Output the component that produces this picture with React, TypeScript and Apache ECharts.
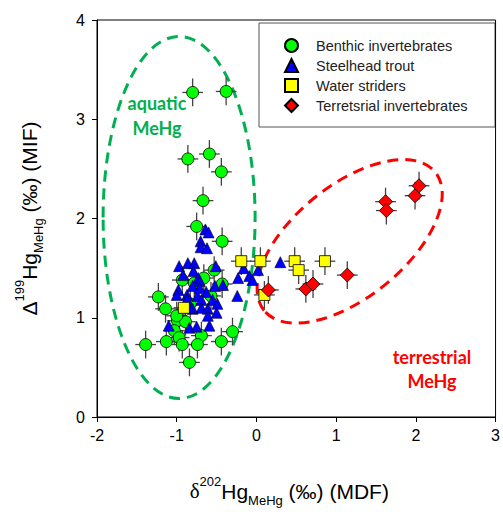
import React, { useEffect, useRef } from "react";
import * as echarts from "echarts";

// Benthic invertebrates
const benthicX = [-0.80, -0.38, -0.86, -0.59, -0.44, -0.67, -0.75, -0.43, -0.53, -0.93, -0.66, -0.43, -1.23, -1.14, -0.57, -0.83, -0.99, -0.89, -1.03, -0.97, -0.69, -1.39, -1.13, -0.93, -0.74, -0.44, -0.30, -0.84, -0.78, -1.00];
const benthicY = [3.27, 3.28, 2.60, 2.65, 2.47, 2.18, 1.92, 1.77, 1.48, 1.38, 1.40, 1.34, 1.21, 1.09, 1.22, 1.14, 0.97, 0.96, 0.87, 0.80, 0.82, 0.73, 0.76, 0.73, 0.73, 0.76, 0.86, 0.55, 1.35, 1.02];

// Steelhead trout
const troutX = [-0.64, -0.60, -0.70, -0.70, -0.62, -0.97, -0.86, -0.78, -0.79, -0.92, -0.73, -0.51, -0.16, 0.02, -0.23, -0.09, -0.05, 0.30, -0.71, -0.80, -0.52, -0.42, -0.98, -1.00, -0.87, -0.74, -0.63, -0.69, -0.55, -0.49, -0.87, -0.24, -0.80, -0.69, -0.61, -0.50, -0.61, -0.59, -1.10, -0.84, -0.75, -0.84, -0.71];
const troutY = [1.89, 1.86, 1.77, 1.71, 1.70, 1.52, 1.55, 1.55, 1.47, 1.43, 1.40, 1.52, 1.50, 1.48, 1.40, 1.42, 1.38, 1.56, 1.37, 1.32, 1.32, 1.33, 1.28, 1.23, 1.23, 1.22, 1.26, 1.18, 1.18, 1.14, 1.19, 1.22, 1.09, 1.10, 1.09, 1.05, 1.02, 0.92, 0.92, 0.90, 0.91, 1.10, 1.30];

// Water striders
const striderX = [-0.91, -0.19, 0.05, 0.10, 0.48, 0.53, 0.86];
const striderY = [1.10, 1.57, 1.57, 1.23, 1.57, 1.48, 1.57];

// Terrestrial invertebrates
const terrX = [0.15, 0.62, 0.71, 1.14, 1.62, 1.63, 1.99, 2.04];
const terrY = [1.28, 1.29, 1.34, 1.43, 2.17, 2.08, 2.23, 2.33];

// Uncertainty applied to samples drawn with error bars
const errX = 0.13;
const errY = 0.14;

const seriesNames = ["Benthic invertebrates", "Steelhead trout", "Water striders", "Terretsrial invertebrates"];
const xTicks = [-2, 3];
const yTicks = [0, 4];

const zip = (xs: number[], ys: number[]) => xs.map((x, i) => [x, ys[i]]);

function errorSeries(data: number[][]) {
  return {
    type: "custom",
    silent: true,
    z: 1,
    data,
    renderItem: (params: any, api: any) => {
      const x = api.value(0);
      const y = api.value(1);
      const l = api.coord([x - errX, y]);
      const r = api.coord([x + errX, y]);
      const t = api.coord([x, y + errY]);
      const b = api.coord([x, y - errY]);
      const st = { stroke: "#444", lineWidth: 1.3 };
      return {
        type: "group",
        children: [
          { type: "line", shape: { x1: l[0], y1: l[1], x2: r[0], y2: r[1] }, style: st },
          { type: "line", shape: { x1: t[0], y1: t[1], x2: b[0], y2: b[1] }, style: st },
        ],
      };
    },
  };
}

function ellipseSeries(center: number[], rx: number, ry: number, rot: number, color: string) {
  return {
    type: "custom",
    silent: true,
    z: 0,
    data: [center],
    renderItem: (params: any, api: any) => {
      const c = api.coord([api.value(0), api.value(1)]);
      return {
        type: "ellipse",
        x: c[0],
        y: c[1],
        rotation: rot,
        shape: { cx: 0, cy: 0, rx, ry },
        style: { fill: "none", stroke: color, lineWidth: 3, lineDash: [11, 7] },
      };
    },
  };
}

export default function App() {
  const ref = useRef<HTMLDivElement>(null);
  useEffect(() => {
    const chart = echarts.init(ref.current!, undefined, { renderer: "svg" });
    const base = { fontFamily: "Liberation Sans, Arial", fontSize: 21, color: "#000" };
    chart.setOption({
      animation: false,
      backgroundColor: "#fff",
      grid: { left: 97, right: 6, top: 20, bottom: 92, show: true, borderColor: "#000", borderWidth: 1, backgroundColor: "transparent" },
      xAxis: {
        type: "value",
        min: xTicks[0],
        max: xTicks[1],
        interval: 1,
        splitLine: { show: false },
        axisLine: { onZero: false, lineStyle: { color: "#000", width: 1 } },
        axisTick: { show: true, length: 5, lineStyle: { color: "#000" } },
        axisLabel: { fontSize: 16, color: "#000", fontFamily: "Liberation Sans, Arial", margin: 10 },
        name: "{d|δ}{sup|202}{m|Hg}{sub|MeHg}{m| (‰) (MDF)}",
        nameLocation: "middle",
        nameGap: 58,
        nameTextStyle: {
          padding: [0, 14, 0, 0],
          rich: {
            d: { ...base, fontFamily: "Liberation Serif, serif", lineHeight: 32, verticalAlign: "middle" },
            m: { ...base, lineHeight: 32 },
            sup: { ...base, fontSize: 13, lineHeight: 14, verticalAlign: "top" },
            sub: { ...base, fontSize: 13, lineHeight: 14, verticalAlign: "bottom" },
          },
        },
      },
      yAxis: {
        type: "value",
        min: yTicks[0],
        max: yTicks[1],
        interval: 1,
        splitLine: { show: false },
        axisLine: { show: true, onZero: false, lineStyle: { color: "#000", width: 1 } },
        axisTick: { show: true, length: 5, lineStyle: { color: "#000" } },
        axisLabel: { fontSize: 16, color: "#000", fontFamily: "Liberation Sans, Arial", margin: 12 },
        name: "{m|Δ}{sup|199}{m|Hg}{sub|MeHg}{m| (‰) (MIF)}",
        nameLocation: "middle",
        nameGap: 52,
        nameRotate: 90,
        nameTextStyle: {
          rich: {
            m: { ...base, lineHeight: 32 },
            sup: { ...base, fontSize: 13, lineHeight: 14, verticalAlign: "top" },
            sub: { ...base, fontSize: 13, lineHeight: 14, verticalAlign: "bottom" },
          },
        },
      },
      legend: {
        data: seriesNames,
        orient: "vertical",
        left: 284,
        top: 38,
        itemWidth: 13,
        itemHeight: 13,
        itemGap: 5,
        padding: 0,
        textStyle: { fontSize: 14.5, color: "#222", fontFamily: "Liberation Sans, Arial", padding: [0, 0, 0, 13] },
      },
      graphic: [
        { type: "rect", shape: { x: 259, y: 23, width: 236, height: 104 }, style: { fill: "none", stroke: "#555", lineWidth: 1 }, z: -1 },
        { type: "text", x: 157, y: 103, style: { text: "aquatic", fill: "#00b050", font: "bold 18px Lato, sans-serif", align: "center", verticalAlign: "middle" } },
        { type: "text", x: 157, y: 128, style: { text: "MeHg", fill: "#00b050", font: "bold 18px Lato, sans-serif", align: "center", verticalAlign: "middle" } },
        { type: "text", x: 432, y: 357, style: { text: "terrestrial", fill: "#ff0000", font: "bold 18px Lato, sans-serif", align: "center", verticalAlign: "middle" } },
        { type: "text", x: 432, y: 381, style: { text: "MeHg", fill: "#ff0000", font: "bold 18px Lato, sans-serif", align: "center", verticalAlign: "middle" } },
      ],
      series: [
        ellipseSeries([-0.97, 2.01], 76, 181, 0, "#00b050"),
        ellipseSeries([1.17, 1.77], 110, 56, 0.68, "#ff0000"),
        errorSeries(zip(benthicX, benthicY)),
        errorSeries(zip(striderX, striderY)),
        errorSeries(zip(terrX, terrY)),
        {
          name: seriesNames[0], type: "scatter", z: 3, symbol: "circle", symbolSize: 12,
          itemStyle: { color: "#00ff00", borderColor: "#000", borderWidth: 0.8, opacity: 1 },
          data: zip(benthicX, benthicY),
        },
        {
          name: seriesNames[1], type: "scatter", z: 4, symbol: "triangle", symbolSize: 11,
          itemStyle: { color: "#0000ff", borderColor: "#000", borderWidth: 0.6, opacity: 1 },
          data: zip(troutX, troutY),
        },
        {
          name: seriesNames[2], type: "scatter", z: 5, symbol: "rect", symbolSize: 11,
          itemStyle: { color: "#ffff00", borderColor: "#000", borderWidth: 0.8, opacity: 1 },
          data: zip(striderX, striderY),
        },
        {
          name: seriesNames[3], type: "scatter", z: 6, symbol: "diamond", symbolSize: 14,
          itemStyle: { color: "#ff0000", borderColor: "#000", borderWidth: 0.8, opacity: 1 },
          data: zip(terrX, terrY),
        },
      ],
    });
    return () => chart.dispose();
  }, []);
  return <div ref={ref} style={{ width: 503, height: 512, position: "absolute", left: 0, top: 0 }} />;
}
